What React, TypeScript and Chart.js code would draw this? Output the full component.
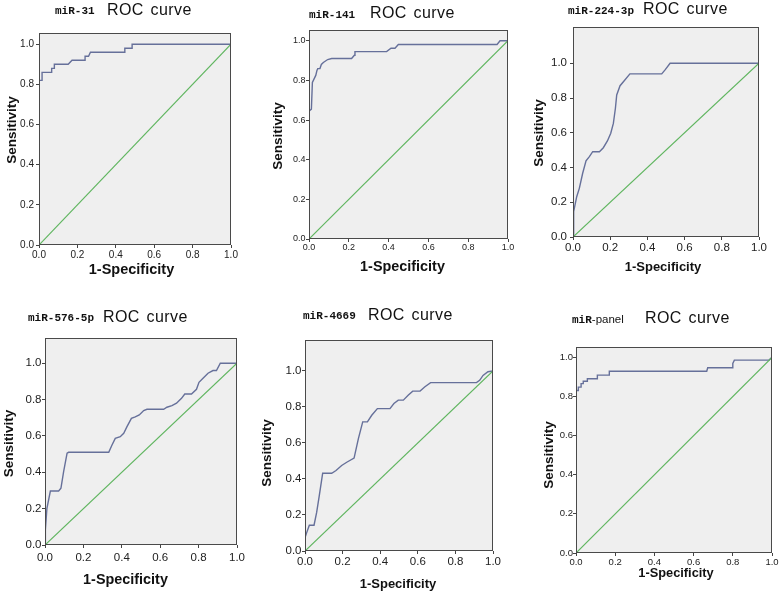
import React, { useEffect, useRef } from "react";
import { Chart, registerables } from "chart.js";

Chart.register(...registerables);

// ---------- data ----------
const tickValues = [0, 0.2, 0.4, 0.6, 0.8, 1.0];
const diagX = [0, 1];
const diagY = [0, 1];

const panelTags = ["miR-31", "miR-141", "miR-224-3p", "miR-576-5p", "miR-4669", "miR"];
const panelTagSuffix = ["", "", "", "", "", "-panel"];
const chartTitle = "ROC curve";
const xAxisTitle = "1-Specificity";
const yAxisTitle = "Sensitivity";

const mir31X = [0, 0, 0.016, 0.016, 0.066, 0.066, 0.08, 0.08, 0.152, 0.172, 0.24, 0.24, 0.258, 0.268, 0.447, 0.447, 0.485, 0.485, 1];
const mir31Y = [0, 0.82, 0.82, 0.86, 0.86, 0.88, 0.88, 0.9, 0.9, 0.92, 0.92, 0.94, 0.94, 0.96, 0.96, 0.98, 0.98, 1, 1];

const mir141X = [0, 0, 0.012, 0.017, 0.022, 0.034, 0.04, 0.044, 0.055, 0.062, 0.072, 0.094, 0.114, 0.214, 0.228, 0.231, 0.39, 0.412, 0.432, 0.449, 0.945, 0.96, 1];
const mir141Y = [0, 0.645, 0.655, 0.79, 0.8, 0.825, 0.85, 0.859, 0.86, 0.88, 0.89, 0.905, 0.91, 0.91, 0.927, 0.945, 0.945, 0.962, 0.962, 0.981, 0.981, 1, 1];

const mir224X = [0, 0.002, 0.005, 0.02, 0.034, 0.052, 0.07, 0.088, 0.106, 0.142, 0.163, 0.185, 0.203, 0.217, 0.228, 0.235, 0.253, 0.271, 0.306, 0.477, 0.495, 0.522, 1];
const mir224Y = [0, 0.1, 0.146, 0.232, 0.28, 0.367, 0.438, 0.463, 0.491, 0.491, 0.514, 0.553, 0.597, 0.654, 0.741, 0.818, 0.871, 0.894, 0.939, 0.939, 0.962, 1, 1];

const mir576X = [0, 0.002, 0.01, 0.028, 0.071, 0.083, 0.097, 0.115, 0.123, 0.332, 0.349, 0.366, 0.392, 0.41, 0.427, 0.45, 0.47, 0.491, 0.514, 0.531, 0.618, 0.635, 0.661, 0.685, 0.711, 0.728, 0.763, 0.789, 0.802, 0.823, 0.849, 0.875, 0.893, 0.913, 1];
const mir576Y = [0, 0.083, 0.202, 0.297, 0.297, 0.312, 0.404, 0.505, 0.51, 0.51, 0.55, 0.587, 0.596, 0.615, 0.651, 0.697, 0.705, 0.716, 0.74, 0.747, 0.747, 0.758, 0.767, 0.78, 0.807, 0.831, 0.831, 0.857, 0.895, 0.917, 0.945, 0.96, 0.96, 1, 1];

const mir4669X = [0, 0, 0.009, 0.023, 0.048, 0.062, 0.076, 0.094, 0.142, 0.165, 0.195, 0.222, 0.261, 0.284, 0.307, 0.332, 0.355, 0.385, 0.452, 0.473, 0.496, 0.523, 0.55, 0.573, 0.612, 0.638, 0.668, 0.912, 0.929, 0.947, 0.973, 1];
const mir4669Y = [0, 0.074, 0.102, 0.143, 0.143, 0.214, 0.307, 0.432, 0.432, 0.447, 0.475, 0.493, 0.516, 0.624, 0.717, 0.717, 0.754, 0.791, 0.791, 0.819, 0.838, 0.838, 0.866, 0.888, 0.888, 0.912, 0.935, 0.935, 0.948, 0.975, 0.996, 1];

const panelX = [0, 0, 0.012, 0.012, 0.026, 0.026, 0.037, 0.037, 0.058, 0.058, 0.109, 0.109, 0.17, 0.17, 0.667, 0.672, 0.798, 0.8, 0.808, 0.985, 1];
const panelY = [0, 0.831, 0.831, 0.848, 0.848, 0.866, 0.866, 0.878, 0.878, 0.891, 0.891, 0.909, 0.909, 0.929, 0.929, 0.947, 0.947, 0.969, 0.986, 0.986, 1];

const seriesX = [mir31X, mir141X, mir224X, mir576X, mir4669X, panelX];
const seriesY = [mir31Y, mir141Y, mir224Y, mir576Y, mir4669Y, panelY];

// ---------- layout (page coordinates) ----------
type Layout = {
  col: number; row: number; w: number; h: number;
  L: number; T: number; R: number; B: number; yMax: number;
  tickFont: number; xTitleFont: number;
  tagX: number; tagY: number; rocX: number; rocY: number;
  yTitleX: number; yTitleY: number; xTitleX: number; xTitleY: number;
  xPad: number; yPad: number;
};

const layouts: Layout[] = [
  { col: 0, row: 0, w: 260, h: 295, L: 39, T: 33, R: 231, B: 245, yMax: 1.056, tickFont: 10, xTitleFont: 14.5,
    tagX: 55, tagY: 13.5, rocX: 107, rocY: 14.5, yTitleX: 12, yTitleY: 130, xTitleX: 131.5, xTitleY: 270, xPad: 1, yPad: 2 },
  { col: 260, row: 0, w: 260, h: 295, L: 309, T: 30, R: 508, B: 239, yMax: 1.054, tickFont: 9, xTitleFont: 14.4,
    tagX: 309, tagY: 17.5, rocX: 370, rocY: 18.3, yTitleX: 278.5, yTitleY: 136, xTitleX: 402.5, xTitleY: 267, xPad: 0, yPad: 0.5 },
  { col: 520, row: 0, w: 260, h: 295, L: 573, T: 27, R: 759, B: 237, yMax: 1.209, tickFont: 11.5, xTitleFont: 13,
    tagX: 568, tagY: 14, rocX: 643, rocY: 13.5, yTitleX: 539, yTitleY: 133, xTitleX: 663, xTitleY: 267, xPad: 1, yPad: 3 },
  { col: 0, row: 295, w: 260, h: 299, L: 45, T: 338, R: 237, B: 545, yMax: 1.139, tickFont: 11.5, xTitleFont: 14.4,
    tagX: 28, tagY: 321, rocX: 103, rocY: 321.7, yTitleX: 9, yTitleY: 443.5, xTitleX: 125.5, xTitleY: 580, xPad: 2.5, yPad: 0.5 },
  { col: 260, row: 295, w: 260, h: 299, L: 305, T: 340, R: 493, B: 551, yMax: 1.172, tickFont: 11.5, xTitleFont: 13,
    tagX: 303, tagY: 319, rocX: 368, rocY: 320, yTitleX: 267.5, yTitleY: 453, xTitleX: 398, xTitleY: 584, xPad: 1, yPad: 0.5 },
  { col: 520, row: 295, w: 260, h: 299, L: 576, T: 347, R: 772, B: 553, yMax: 1.053, tickFont: 9.5, xTitleFont: 12.8,
    tagX: 572, tagY: 323.3, rocX: 645, rocY: 323, yTitleX: 549, yTitleY: 455, xTitleX: 676, xTitleY: 573.5, xPad: 0.5, yPad: 0 },
];

const SANS = '"Liberation Sans", Arial, sans-serif';
const MONO = '"Liberation Mono", "Courier New", monospace';

function RocPanel({ idx }: { idx: number }) {
  const ref = useRef<HTMLCanvasElement | null>(null);
  const lay = layouts[idx];

  useEffect(() => {
    if (!ref.current) return;
    const xs = seriesX[idx];
    const ys = seriesY[idx];
    const rocData = xs.map((x, i) => ({ x, y: ys[i] }));
    const diagData = diagX.map((x, i) => ({ x, y: diagY[i] }));

    const yW = lay.L - lay.col;
    const xH = lay.row + lay.h - lay.B;

    const bgPlugin = {
      id: "plotBg",
      beforeDraw(chart: any) {
        const { ctx, chartArea: a } = chart;
        ctx.save();
        ctx.fillStyle = "#efefef";
        ctx.fillRect(a.left, a.top, a.right - a.left, a.bottom - a.top);
        ctx.restore();
      },
      afterDatasetsDraw(chart: any) {
        const { ctx, chartArea: a } = chart;
        ctx.save();
        ctx.strokeStyle = "#4a4a4a";
        ctx.lineWidth = 1;
        ctx.strokeRect(Math.round(a.left) + 0.5, Math.round(a.top) + 0.5, Math.round(a.right - a.left) - 1, Math.round(a.bottom - a.top) - 1);
        ctx.restore();
      },
    };

    const textPlugin = {
      id: "panelText",
      afterDraw(chart: any) {
        const ctx = chart.ctx as CanvasRenderingContext2D;
        const ox = lay.col;
        const oy = lay.row;
        ctx.save();
        ctx.fillStyle = "#111";
        ctx.textAlign = "left";
        ctx.textBaseline = "alphabetic";
        ctx.font = `bold 11px ${MONO}`;
        ctx.fillText(panelTags[idx], lay.tagX - ox, lay.tagY - oy);
        if (panelTagSuffix[idx]) {
          const w = ctx.measureText(panelTags[idx]).width;
          ctx.font = `11.5px ${SANS}`;
          ctx.fillText(panelTagSuffix[idx], lay.tagX - ox + w, lay.tagY - oy);
        }
        ctx.font = `16px ${SANS}`;
        (ctx as any).letterSpacing = "0.4px";
        (ctx as any).wordSpacing = "2px";
        ctx.fillText(chartTitle, lay.rocX - ox, lay.rocY - oy);
        (ctx as any).letterSpacing = "0px";
        (ctx as any).wordSpacing = "0px";

        ctx.textAlign = "center";
        ctx.textBaseline = "middle";
        ctx.font = `bold ${lay.xTitleFont}px ${SANS}`;
        ctx.fillText(xAxisTitle, lay.xTitleX - ox, lay.xTitleY - oy);

        ctx.font = `bold 13.5px ${SANS}`;
        ctx.translate(lay.yTitleX - ox, lay.yTitleY - oy);
        ctx.rotate(-Math.PI / 2);
        ctx.fillText(yAxisTitle, 0, 0);
        ctx.restore();
      },
    };

    const tickFont = { family: SANS, size: lay.tickFont };
    const chart = new Chart(ref.current, {
      type: "line",
      data: {
        datasets: [
          {
            data: diagData,
            borderColor: "#5fb55f",
            borderWidth: 1.2,
            pointRadius: 0,
            tension: 0,
            fill: false,
          },
          {
            data: rocData,
            borderColor: "#66709a",
            borderWidth: 1.4,
            pointRadius: 0,
            tension: 0,
            fill: false,
          },
        ],
      },
      options: {
        responsive: false,
        animation: false,
        events: [],
        layout: {
          padding: { top: lay.T - lay.row, right: lay.col + lay.w - lay.R, left: 0, bottom: 0 },
        },
        plugins: {
          legend: { display: false },
          tooltip: { enabled: false },
          title: { display: false },
        },
        scales: {
          x: {
            type: "linear",
            min: 0,
            max: 1,
            afterBuildTicks: (s: any) => {
              s.ticks = tickValues.map((v) => ({ value: v }));
            },
            afterFit: (s: any) => {
              s.height = xH;
            },
            ticks: {
              font: tickFont,
              color: "#222",
              padding: lay.xPad,
              maxRotation: 0,
              autoSkip: false,
              callback: (v: any) => Number(v).toFixed(1),
            },
            grid: { drawOnChartArea: false, drawTicks: true, tickLength: 3, color: "#444" },
            border: { display: false },
          },
          y: {
            type: "linear",
            min: 0,
            max: lay.yMax,
            afterBuildTicks: (s: any) => {
              s.ticks = tickValues.map((v) => ({ value: v }));
            },
            afterFit: (s: any) => {
              s.width = yW;
            },
            ticks: {
              font: tickFont,
              color: "#222",
              padding: lay.yPad,
              autoSkip: false,
              callback: (v: any) => Number(v).toFixed(1),
            },
            grid: { drawOnChartArea: false, drawTicks: true, tickLength: 3, color: "#444" },
            border: { display: false },
          },
        },
      } as any,
      plugins: [bgPlugin, textPlugin],
    });
    return () => chart.destroy();
  }, [idx]);

  return (
    <canvas
      ref={ref}
      width={lay.w}
      height={lay.h}
      style={{ position: "absolute", left: lay.col, top: lay.row, width: lay.w, height: lay.h }}
    />
  );
}

export default function App() {
  return (
    <div
      style={{
        position: "absolute",
        left: 0,
        top: 0,
        width: 780,
        height: 594,
        background: "#ffffff",
        overflow: "hidden",
      }}
    >
      {layouts.map((_, i) => (
        <RocPanel key={i} idx={i} />
      ))}
    </div>
  );
}
